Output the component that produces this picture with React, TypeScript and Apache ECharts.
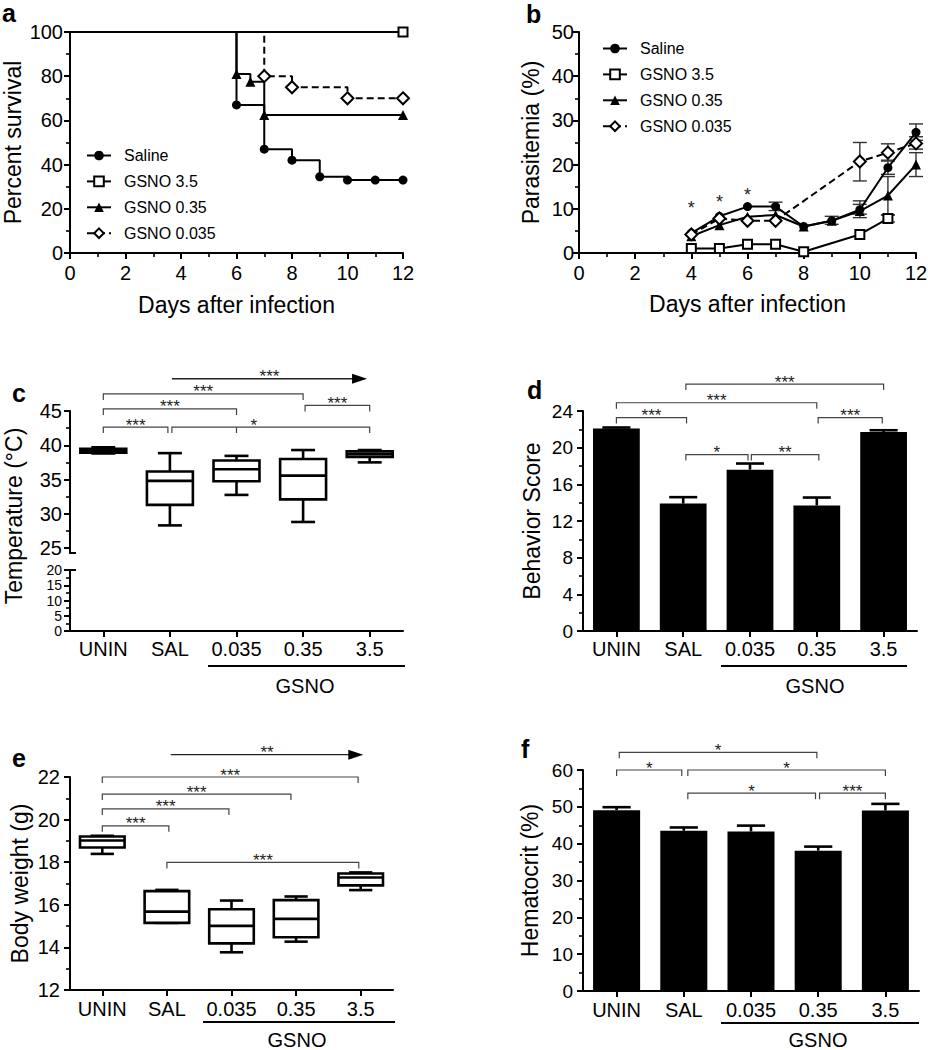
import React, { useEffect, useRef } from 'react';
import * as echarts from 'echarts';

const FONT = '"Liberation Sans", Arial, Helvetica, sans-serif';

// ---------- Data ----------
const legendNames = ['Saline', 'GSNO 3.5', 'GSNO 0.35', 'GSNO 0.035'];
const groups = ['UNIN', 'SAL', '0.035', '0.35', '3.5'];

// Panel a: survival (day, %)
const survSaline = [[0, 100], [6, 67], [7, 47], [8, 42], [9, 34.5], [10, 33], [11, 33], [12, 33]];
const survG35 = [[0, 100], [12, 100]];
const survG035 = [[0, 100], [6, 81], [6.5, 77.5], [7, 62.5], [12, 62.5]];
const survG0035 = [[0, 100], [7, 80], [8, 75], [10, 70], [12, 70]];

// Panel b: parasitemia (day, %)
const paraSaline = [[4, 4.5], [5, 8.3], [6, 10.5], [7, 10.5], [8, 6], [9, 7.3], [10, 9.8], [11, 19.3], [12, 27.3]];
const paraG35 = [[4, 1], [5, 1], [6, 2], [7, 2], [8, 0.3], [10, 4.2], [11, 7.8]];
const paraG035 = [[4, 3.8], [5, 6.3], [6, 8.2], [7, 8.6], [8, 6], [9, 7.3], [10, 9.5], [11, 13], [12, 20]];
const paraG0035 = [[4, 4.2], [5, 7.8], [6, 7.3], [7, 7.3], [10, 20.7], [11, 22.7], [12, 24.8]];
// error bars (day, low, high)
const paraErr = [
  [7, 9.6, 11.5], [10, 8, 11.8], [11, 17.8, 20.8], [12, 25.5, 29.2],
  [9, 6.5, 8.3], [10, 8.8, 11], [11, 8.6, 17.3], [12, 17.3, 22.7],
  [10, 16.3, 25], [11, 21, 24.7], [12, 23.5, 26.3], [11, 7, 8.6],
];
const paraStars = [[4, 11.1], [5, 12.4], [6, 14]];

// Panel c: temperature boxes [idx, low, q1, median, q3, high]
const tempBoxes = [
  [0, 38.8, 38.9, 39.2, 39.5, 39.7],
  [1, 28.3, 31.3, 34.8, 36.16, 38.85],
  [2, 32.75, 34.75, 36.5, 37.77, 38.45],
  [3, 28.8, 32.1, 35.57, 38.0, 39.3],
  [4, 37.5, 38.3, 38.7, 39.1, 39.3],
];
const tempBrackets = [
  { x1: 1.03, x2: 3.96, y: 49.7, text: '***', arrow: true },
  { x1: 0, x2: 3, y: 47.5, text: '***' },
  { x1: 0, x2: 2, y: 45.3, text: '***' },
  { x1: 0, x2: 0.97, y: 42.66, text: '***' },
  { x1: 1.03, x2: 4, y: 42.66, text: '*', mid: [2], tx: 2.26 },
  { x1: 3.03, x2: 4, y: 45.82, text: '***' },
];

// Panel d: behavior score
const behaviorMean = [22.1, 13.9, 17.6, 13.7, 21.7];
const behaviorTop = [22.2, 14.6, 18.27, 14.56, 21.9];
const behaviorBrackets = [
  { x1: 1.04, x2: 4, y: 26.94, text: '***' },
  { x1: 0, x2: 3, y: 24.9, text: '***' },
  { x1: 0, x2: 1.05, y: 23.28, text: '***' },
  { x1: 3.02, x2: 3.98, y: 23.28, text: '***' },
  { x1: 1.04, x2: 1.97, y: 19.25, text: '*' },
  { x1: 2.02, x2: 3.03, y: 19.25, text: '**' },
];

// Panel e: body weight boxes [idx, low, q1, median, q3, high]
const weightBoxes = [
  [0, 18.39, 18.69, 19.02, 19.21, 19.24],
  [1, 15.15, 15.15, 15.68, 16.64, 16.7],
  [2, 13.77, 14.19, 15.01, 15.79, 16.2],
  [3, 14.27, 14.48, 15.34, 16.22, 16.39],
  [4, 16.69, 16.91, 17.28, 17.47, 17.52],
];
const weightBrackets = [
  { x1: 1.06, x2: 4.04, y: 23.05, text: '**', arrow: true },
  { x1: 0, x2: 3.96, y: 22.0, text: '***' },
  { x1: 0, x2: 2.92, y: 21.2, text: '***' },
  { x1: 0, x2: 1.96, y: 20.5, text: '***' },
  { x1: 0, x2: 1.03, y: 19.71, text: '***' },
  { x1: 1.0, x2: 3.97, y: 17.99, text: '***' },
];

// Panel f: hematocrit
const hctMean = [49.1, 43.5, 43.3, 38.1, 49.0];
const hctTop = [49.9, 44.4, 44.9, 39.2, 50.8];
const hctBrackets = [
  { x1: 0.04, x2: 2.98, y: 64.8, text: '*' },
  { x1: 0, x2: 0.97, y: 60.0, text: '*' },
  { x1: 1.06, x2: 4.0, y: 60.0, text: '*' },
  { x1: 1.06, x2: 2.96, y: 53.7, text: '*' },
  { x1: 3.02, x2: 4.0, y: 53.7, text: '***' },
];

// ---------- helpers ----------
function xOf(api: any, v: number) {
  const x0 = api.coord([0, 0])[0];
  const band = api.size([1, 0])[0];
  return x0 + v * band;
}

const boxRender = (params: any, api: any) => {
  const i = api.value(0);
  const yy = (k: number) => api.coord([i, api.value(k)])[1];
  const lo = yy(1), q1 = yy(2), md = yy(3), q3 = yy(4), hi = yy(5);
  const x = api.coord([i, api.value(3)])[0];
  const band = api.size([1, 0])[0];
  const bw = band * 0.69, cw = band * 0.36;
  const st = { stroke: '#000', lineWidth: 2.6, fill: null };
  return {
    type: 'group',
    children: [
      { type: 'line', shape: { x1: x, y1: hi, x2: x, y2: q3 }, style: st },
      { type: 'line', shape: { x1: x, y1: q1, x2: x, y2: lo }, style: st },
      { type: 'line', shape: { x1: x - cw / 2, y1: hi, x2: x + cw / 2, y2: hi }, style: st },
      { type: 'line', shape: { x1: x - cw / 2, y1: lo, x2: x + cw / 2, y2: lo }, style: st },
      { type: 'rect', shape: { x: x - bw / 2, y: q3, width: bw, height: q1 - q3 }, style: { stroke: '#000', lineWidth: 2.6, fill: '#fff' } },
      { type: 'line', shape: { x1: x - bw / 2, y1: md, x2: x + bw / 2, y2: md }, style: st },
    ],
  };
};

const barErrRender = (params: any, api: any) => {
  const i = api.value(0);
  const p1 = api.coord([i, api.value(1)]);
  const p2 = api.coord([i, api.value(2)]);
  const cw = api.size([1, 0])[0] * 0.42;
  const st = { stroke: '#000', lineWidth: 2.6 };
  return {
    type: 'group',
    children: [
      { type: 'line', shape: { x1: p1[0], y1: p1[1], x2: p2[0], y2: p2[1] }, style: st },
      { type: 'line', shape: { x1: p2[0] - cw / 2, y1: p2[1], x2: p2[0] + cw / 2, y2: p2[1] }, style: st },
    ],
  };
};

const lineErrRender = (params: any, api: any) => {
  const x = api.value(0);
  const a = api.coord([x, api.value(1)]);
  const b = api.coord([x, api.value(2)]);
  const st = { stroke: '#333', lineWidth: 1.4 };
  return {
    type: 'group',
    children: [
      { type: 'line', shape: { x1: a[0], y1: a[1], x2: b[0], y2: b[1] }, style: st },
      { type: 'line', shape: { x1: a[0] - 7, y1: a[1], x2: a[0] + 7, y2: a[1] }, style: st },
      { type: 'line', shape: { x1: b[0] - 7, y1: b[1], x2: b[0] + 7, y2: b[1] }, style: st },
    ],
  };
};

const starRender = (params: any, api: any) => {
  const p = api.coord([api.value(0), api.value(1)]);
  return {
    type: 'text', x: p[0], y: p[1] + 4,
    style: { text: '*', fill: '#222', fontSize: 18, fontFamily: FONT, align: 'center', verticalAlign: 'middle' },
  };
};

const bracketRender = (list: any[]) => (params: any, api: any) => {
  const b = list[params.dataIndex];
  const y = api.coord([0, b.y])[1];
  const x1 = xOf(api, b.x1);
  const x2 = xOf(api, b.x2);
  const children: any[] = [];
  if (b.arrow) {
    children.push({ type: 'line', shape: { x1, y1: y, x2: x2 - 12, y2: y }, style: { stroke: '#222', lineWidth: 1.4 } });
    children.push({ type: 'polygon', shape: { points: [[x2, y], [x2 - 15, y - 5], [x2 - 15, y + 5]] }, style: { fill: '#000' } });
  } else {
    children.push({
      type: 'polyline',
      shape: { points: [[x1, y + 6], [x1, y], [x2, y], [x2, y + 6]] },
      style: { stroke: '#444', lineWidth: 1.2, fill: null },
    });
    (b.mid || []).forEach((m: number) => {
      const xm = xOf(api, m);
      children.push({ type: 'line', shape: { x1: xm, y1: y, x2: xm, y2: y + 6 }, style: { stroke: '#444', lineWidth: 1.2 } });
    });
  }
  const tx = b.tx != null ? xOf(api, b.tx) : (x1 + x2) / 2;
  children.push({
    type: 'text', x: tx, y: y - 2,
    style: { text: b.text, fill: '#222', fontSize: 17, fontFamily: FONT, align: 'center', verticalAlign: 'middle' },
  });
  return { type: 'group', children };
};

function valAxis(gridIndex: number, min: number, max: number, interval: number, extra: any = {}) {
  return {
    type: 'value', gridIndex, min, max, interval,
    axisLine: { show: true, onZero: false, lineStyle: { color: '#000', width: 2 } },
    axisTick: { show: true, inside: false, length: 6, lineStyle: { color: '#000', width: 2 } },
    minorTick: { show: extra.minor !== false, splitNumber: 2, length: 4, lineStyle: { color: '#000', width: 1.6 } },
    splitLine: { show: false },
    minorSplitLine: { show: false },
    axisLabel: { color: '#000', fontSize: extra.fontSize || 20, fontFamily: FONT, margin: extra.margin ?? 8 },
    name: extra.name || '',
    nameLocation: 'middle',
    nameGap: extra.nameGap || 40,
    nameTextStyle: { color: '#000', fontSize: 23, fontFamily: FONT },
  };
}

function catAxis(gridIndex: number, extra: any = {}) {
  return {
    type: 'category', gridIndex, data: groups, show: extra.show !== false,
    axisLine: { show: true, onZero: false, lineStyle: { color: '#000', width: 2 } },
    axisTick: { show: true, alignWithLabel: true, length: 6, lineStyle: { color: '#000', width: 2 } },
    splitLine: { show: false },
    axisLabel: { color: '#000', fontSize: 20, fontFamily: FONT, margin: extra.margin ?? 8, interval: 0 },
  };
}

function stepSeries(name: string, data: number[][], xi: number, symbol: string, size: number, open: boolean, dashed: boolean) {
  return {
    type: 'line', name, xAxisIndex: xi, yAxisIndex: xi, step: 'end',
    data: data.map((p, i) => (i === 0 ? { value: p, symbol: 'none' } : p)),
    symbol, symbolSize: size, showSymbol: true,
    itemStyle: open ? { color: '#fff', borderColor: '#000', borderWidth: 2 } : { color: '#000' },
    lineStyle: { color: '#000', width: 2, type: dashed ? [7, 4] : 'solid' },
    z: 3,
  };
}

function lineSeries(name: string, data: number[][], symbol: string, size: number, open: boolean, dashed: boolean) {
  return {
    type: 'line', name, xAxisIndex: 1, yAxisIndex: 1,
    data, symbol, symbolSize: size, showSymbol: true,
    itemStyle: open ? { color: '#fff', borderColor: '#000', borderWidth: 2 } : { color: '#000' },
    lineStyle: { color: '#000', width: 2, type: dashed ? [7, 4] : 'solid' },
    z: 3,
  };
}

const letter = (t: string, x: number, y: number) => ({
  type: 'text', x, y,
  style: { text: t, fill: '#000', font: `bold 25px ${FONT}`, align: 'left', verticalAlign: 'middle' },
});
const uline = (x1: number, x2: number, y: number) => ({
  type: 'line', shape: { x1, y1: y, x2, y2: y }, style: { stroke: '#000', lineWidth: 2 },
});
const gsno = (x: number, y: number) => ({
  type: 'text', x, y,
  style: { text: 'GSNO', fill: '#000', fontSize: 20, fontFamily: FONT, align: 'center', verticalAlign: 'middle' },
});

const legendCfg = (left: number, top: number) => ({
  left, top, orient: 'vertical', padding: 0, itemWidth: 24, itemHeight: 12, itemGap: 9.9,
  data: legendNames, selectedMode: false,
  textStyle: { fontSize: 16, fontFamily: FONT, color: '#000', padding: [0, 0, 0, 8] },
});

export default function App() {
  const ref = useRef<HTMLDivElement>(null);
  useEffect(() => {
    if (!ref.current) return;
    const chart = echarts.init(ref.current, undefined, { renderer: 'svg' });
    const option: any = {
      animation: false,
      backgroundColor: '#fff',
      textStyle: { fontFamily: FONT },
      grid: [
        { left: 70, top: 32, width: 333, height: 221, outerBoundsMode: 'none' },
        { left: 579, top: 32, width: 337, height: 221, outerBoundsMode: 'none' },
        { left: 70, top: 411, width: 333, height: 137, outerBoundsMode: 'none' },
        { left: 70, top: 570, width: 333, height: 61, outerBoundsMode: 'none' },
        { left: 583, top: 411, width: 334, height: 220, outerBoundsMode: 'none' },
        { left: 70, top: 777, width: 323, height: 213, outerBoundsMode: 'none' },
        { left: 583, top: 770, width: 336, height: 221, outerBoundsMode: 'none' },
      ],
      legend: [legendCfg(86, 147.5), legendCfg(602, 40.5)],
      xAxis: [
        valAxis(0, 0, 12, 2, { name: 'Days after infection', nameGap: 40, margin: 10 }),
        valAxis(1, 0, 12, 2, { name: 'Days after infection', nameGap: 39, margin: 10 }),
        catAxis(2, { show: false }),
        catAxis(3, { margin: 8 }),
        catAxis(4, { margin: 8 }),
        catAxis(5, { margin: 9 }),
        catAxis(6, { margin: 9 }),
      ],
      yAxis: [
        valAxis(0, 0, 100, 20, { name: 'Percent survival', nameGap: 46, margin: 7 }),
        valAxis(1, 0, 50, 10, { name: 'Parasitemia (%)', nameGap: 37, margin: 5 }),
        valAxis(2, 25, 45, 5, { margin: 8 }),
        valAxis(3, 0, 20, 5, { margin: 8, fontSize: 14 }),
        valAxis(4, 0, 24, 4, { name: 'Behavior Score', nameGap: 40, margin: 10, fontSize: 19 }),
        valAxis(5, 12, 22, 2, { name: 'Body weight (g)', nameGap: 39, margin: 10 }),
        valAxis(6, 0, 60, 10, { name: 'Hematocrit (%)', nameGap: 42, margin: 10, fontSize: 19 }),
      ],
      series: [
        // a
        stepSeries('GSNO 3.5', survG35, 0, 'rect', 9, true, false),
        stepSeries('Saline', survSaline, 0, 'circle', 9, false, false),
        stepSeries('GSNO 0.35', survG035, 0, 'triangle', 10, false, false),
        stepSeries('GSNO 0.035', survG0035, 0, 'diamond', 12, true, true),
        // b
        { type: 'custom', xAxisIndex: 1, yAxisIndex: 1, data: paraErr, renderItem: lineErrRender, z: 1, silent: true },
        lineSeries('Saline', paraSaline, 'circle', 9, false, false),
        lineSeries('GSNO 3.5', paraG35, 'rect', 9, true, false),
        lineSeries('GSNO 0.35', paraG035, 'triangle', 10, false, false),
        lineSeries('GSNO 0.035', paraG0035, 'diamond', 12, true, true),
        { type: 'custom', xAxisIndex: 1, yAxisIndex: 1, data: paraStars, renderItem: starRender, z: 4, silent: true },
        // c
        { type: 'custom', xAxisIndex: 2, yAxisIndex: 2, data: tempBoxes, renderItem: boxRender, z: 2, silent: true },
        { type: 'custom', xAxisIndex: 2, yAxisIndex: 2, data: tempBrackets.map((b) => [b.x1, b.y]), renderItem: bracketRender(tempBrackets), z: 2, silent: true },
        // d
        { type: 'bar', xAxisIndex: 4, yAxisIndex: 4, data: behaviorMean, barWidth: '70%', itemStyle: { color: '#000' }, z: 2, silent: true },
        { type: 'custom', xAxisIndex: 4, yAxisIndex: 4, data: behaviorMean.map((m, i) => [i, m, behaviorTop[i]]), renderItem: barErrRender, z: 3, silent: true },
        { type: 'custom', xAxisIndex: 4, yAxisIndex: 4, data: behaviorBrackets.map((b) => [b.x1, b.y]), renderItem: bracketRender(behaviorBrackets), z: 2, silent: true },
        // e
        { type: 'custom', xAxisIndex: 5, yAxisIndex: 5, data: weightBoxes, renderItem: boxRender, z: 2, silent: true },
        { type: 'custom', xAxisIndex: 5, yAxisIndex: 5, data: weightBrackets.map((b) => [b.x1, b.y]), renderItem: bracketRender(weightBrackets), z: 2, silent: true },
        // f
        { type: 'bar', xAxisIndex: 6, yAxisIndex: 6, data: hctMean, barWidth: '70%', itemStyle: { color: '#000' }, z: 2, silent: true },
        { type: 'custom', xAxisIndex: 6, yAxisIndex: 6, data: hctMean.map((m, i) => [i, m, hctTop[i]]), renderItem: barErrRender, z: 3, silent: true },
        { type: 'custom', xAxisIndex: 6, yAxisIndex: 6, data: hctBrackets.map((b) => [b.x1, b.y]), renderItem: bracketRender(hctBrackets), z: 2, silent: true },
      ],
      graphic: [
        letter('a', 2, 13), letter('b', 526, 14), letter('c', 12, 393),
        letter('d', 527, 390), letter('e', 12, 758), letter('f', 521, 749),
        uline(208, 405, 666), gsno(305, 686),
        uline(721, 907, 666), gsno(815, 686),
        uline(203, 395, 1022), gsno(297, 1040),
        uline(721, 919, 1023), gsno(818, 1040),
        {
          type: 'text', x: 14, y: 516, rotation: Math.PI / 2,
          style: { text: 'Temperature (°C)', fill: '#000', fontSize: 23, fontFamily: FONT, align: 'center', verticalAlign: 'middle' },
        },
        { type: 'line', shape: { x1: 70, y1: 547, x2: 70, y2: 553 }, style: { stroke: '#000', lineWidth: 2 } },
        { type: 'line', shape: { x1: 69, y1: 553, x2: 76, y2: 553 }, style: { stroke: '#000', lineWidth: 2 } },
        { type: 'line', shape: { x1: 69, y1: 570, x2: 76, y2: 570 }, style: { stroke: '#000', lineWidth: 2 } },
      ],
    };
    chart.setOption(option);
    return () => chart.dispose();
  }, []);
  return (
    <div
      ref={ref}
      style={{ position: 'absolute', left: 0, top: 0, width: 928, height: 1050, background: '#fff' }}
    />
  );
}
